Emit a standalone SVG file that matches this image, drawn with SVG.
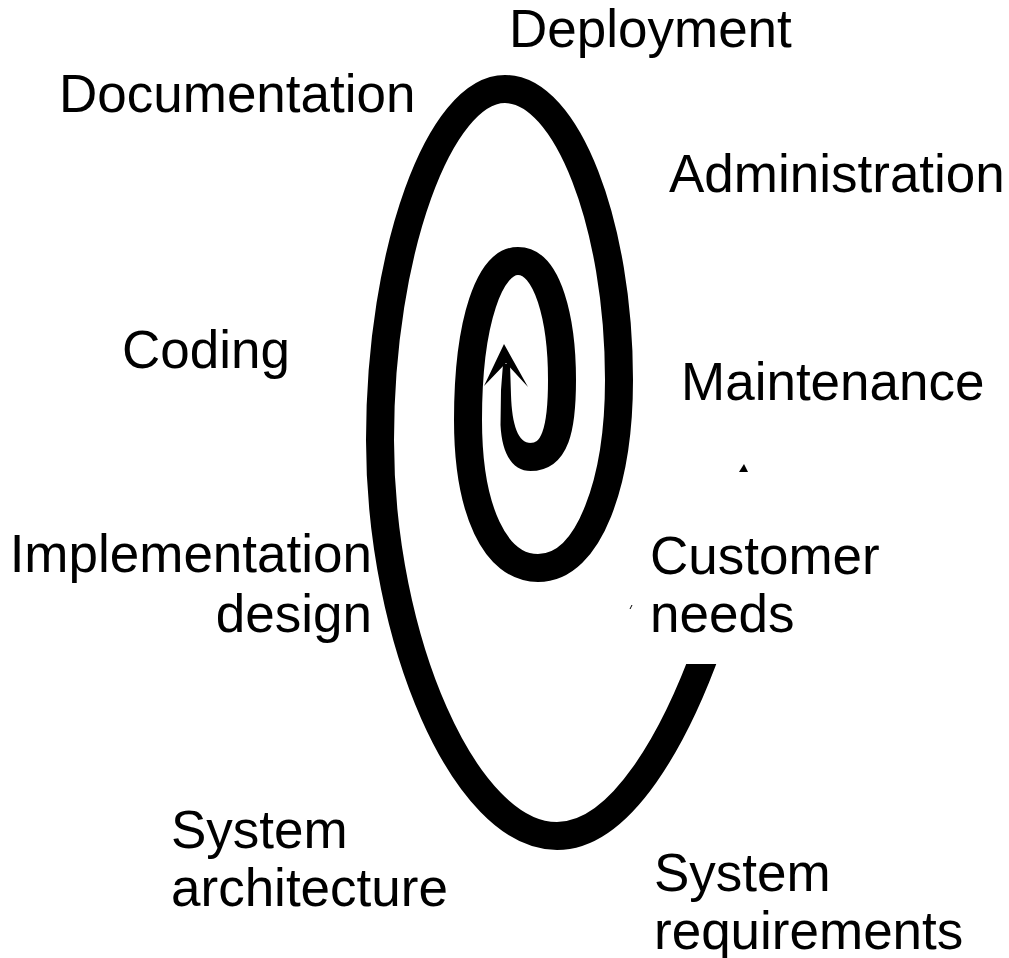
<svg xmlns="http://www.w3.org/2000/svg" width="1009" height="958" viewBox="0 0 1009 958">
  <style>
    .lbl { font-family: "Liberation Sans", Arial, sans-serif; font-size: 53px; fill: #000; }
    .spiral { fill: none; stroke: #000; stroke-width: 28; stroke-linecap: butt; stroke-linejoin: round; }
    .solid { fill: #000; stroke: none; }
  </style>
  <defs>
    <clipPath id="startCut">
      <path d="M0 0 H650 V664 H1009 V958 H0 Z"/>
    </clipPath>
  </defs>
  <rect x="0" y="0" width="1009" height="958" fill="#fff"/>

  <g id="connectors">
    <path class="spiral" clip-path="url(#startCut)" d="M 708 646 C 676 735, 622 836, 557 836 C 465 836, 380 640, 380 440 C 380 250, 440 89, 505 89 C 567 89, 619 225, 619 380 C 619 480, 590 568, 538 568 C 495 568, 468 510, 468 420 C 468 320, 490 261, 518 261 C 548 261, 562 320, 562 380 C 562 430, 555 457, 530 457"/>
    <path class="solid" d="M 531 471 C 513 471, 502 455, 500.5 425 L 501 390 L 503 364 L 510 364 L 511 395 C 512 425, 518 443, 531 443 Z"/>
    <polygon class="solid" points="504,344 484,386 506,363 528,387"/>
    <polygon class="solid" points="744,464 739,472 748,472"/>
    <line x1="630" y1="609" x2="632" y2="605" stroke="#000" stroke-width="1"/>
  </g>

  <g id="deployment"><text class="lbl" x="509" y="47">Deployment</text></g>
  <g id="documentation"><text class="lbl" x="59" y="112">Documentation</text></g>
  <g id="administration"><text class="lbl" x="669" y="192">Administration</text></g>
  <g id="coding"><text class="lbl" x="122" y="368">Coding</text></g>
  <g id="maintenance"><text class="lbl" x="681" y="400">Maintenance</text></g>
  <g id="implementation-design">
    <text class="lbl" x="372" y="572" text-anchor="end">Implementation</text>
    <text class="lbl" x="372" y="632" text-anchor="end">design</text>
  </g>
  <g id="customer-needs">
    <text class="lbl" x="650" y="574">Customer</text>
    <text class="lbl" x="650" y="632">needs</text>
  </g>
  <g id="system-architecture">
    <text class="lbl" x="171" y="848">System</text>
    <text class="lbl" x="171" y="906">architecture</text>
  </g>
  <g id="system-requirements">
    <text class="lbl" x="654" y="891">System</text>
    <text class="lbl" x="654" y="949">requirements</text>
  </g>
</svg>
